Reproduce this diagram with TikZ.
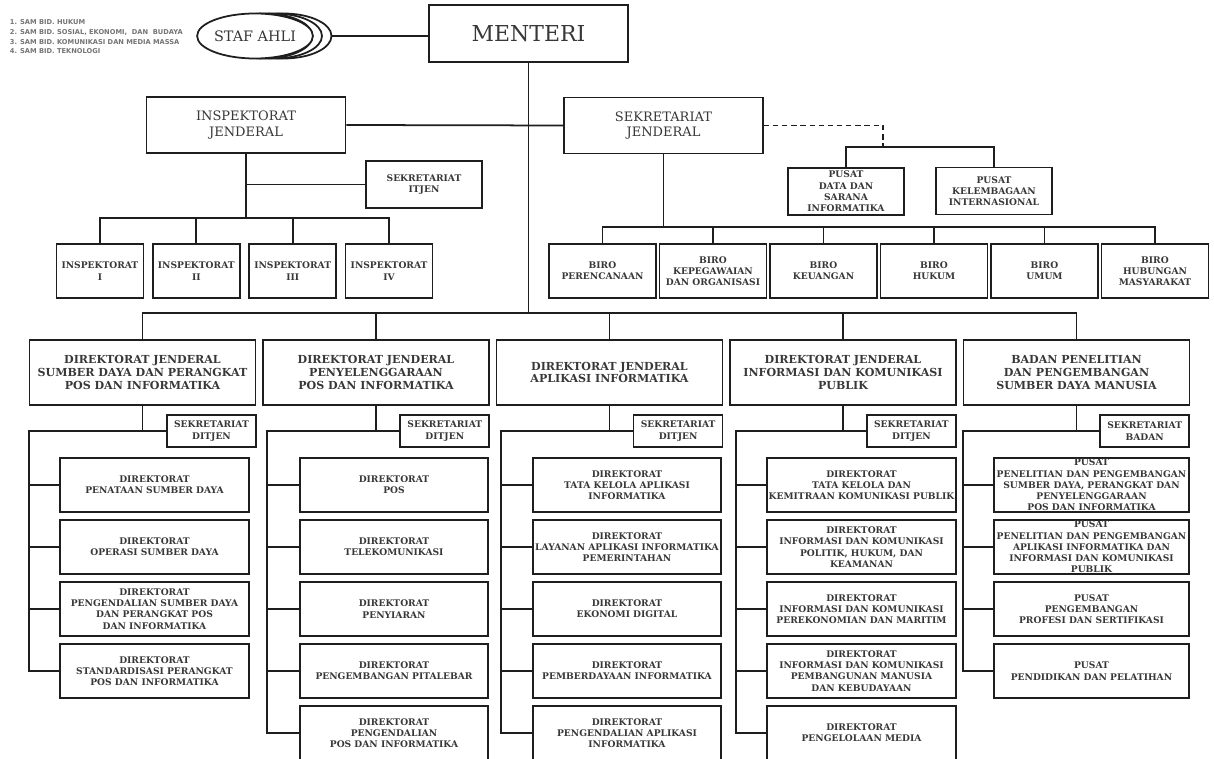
\documentclass[tikz,border=0pt]{standalone}
\usepackage{fontspec}
\setmainfont{DejaVu Serif}
\newfontfamily\notefont{DejaVu Sans}
\usetikzlibrary{shapes.geometric}
\definecolor{ink}{HTML}{1E1E1E}
\definecolor{txtgray}{HTML}{383838}
\definecolor{notegray}{HTML}{747474}
\newcommand{\px}{0.02cm}
\tikzset{
  unit/.style={draw=ink, line width=1pt, fill=white, align=center,
    inner sep=0pt, text=txtgray},
  boxsize/.style 2 args={minimum width=#1*\px, minimum height=#2*\px},
  bigbox/.style={unit, boxsize={199}{56}, font=\fontsize{7.4}{8.6}\selectfont},
  djbox/.style={unit, boxsize={226}{65}, font=\fontsize{6.3}{7.3}\selectfont\bfseries},
  smallbox/.style={unit, font=\fontsize{5.2}{6.4}\selectfont\bfseries},
  stafbox/.style={unit, ellipse, boxsize={96}{45}, font=\fontsize{8.2}{9}\selectfont},
  notestyle/.style={align=left, inner sep=0pt, text=notegray,
    font=\notefont\bfseries\fontsize{3.8}{5.5}\selectfont},
  dashline/.style={dash pattern=on 3pt off 2.2pt},
}
\begin{document}
\begin{tikzpicture}[x=\px, y=-\px, line width=1pt, ink]
\useasboundingbox (0,0) rectangle (1214,759);
\fill [white] (0,0) rectangle (1214,759);
\clip (0,0) rectangle (1214,759);
% menteri dan staf ahli
\node [notestyle, anchor=west] (notes) at (9,37) {1. SAM BID. HUKUM\\2. SAM BID. SOSIAL, EKONOMI,~ DAN~ BUDAYA\\3. SAM BID. KOMUNIKASI DAN MEDIA MASSA\\4. SAM BID. TEKNOLOGI};
\foreach \i/\x in {3/283.5,2/274,1/264.5}
  \node [stafbox] (staf\i) at (\x,36) {};
\node [stafbox] (staf) at (255,36) {STAF AHLI};
\node [bigbox, boxsize={199}{57}, font=\fontsize{12.5}{14}\selectfont] (menteri) at (528.5,33.5) {MENTERI};
\draw (staf3.east) -- (staf3.east -| menteri.west);
\coordinate (djbus) at (528.5,313);
\draw (menteri.south) -- (djbus);
% inspektorat jenderal
\node [bigbox] (ij) at (246,125) {INSPEKTORAT\\JENDERAL};
\node [bigbox] (sekjen) at (663.5,125.5) {SEKRETARIAT\\JENDERAL};
\draw (ij.east) -- (sekjen.west);
\node [smallbox, boxsize={116}{47}] (itjen) at (424,184.5) {SEKRETARIAT\\ITJEN};
\draw (ij.south |- itjen.west) -- (itjen.west);
\coordinate (ijbus) at (246,218);
\draw (ij.south) -- (ijbus);
\foreach \t [count=\i] in {I,II,III,IV}
  \node [smallbox, boxsize={87}{54}] (insp\i) at ({3.5+96.4*\i},271) {INSPEKTORAT\\\t};
\foreach \i in {1,...,4} \draw (ijbus) -| (insp\i.north);
% sekretariat jenderal
\coordinate (pusbus) at (883,147);
\draw [dashline] (sekjen.east) -| (pusbus);
\node [smallbox, boxsize={116}{47}] (pusat1) at (846,191.5) {PUSAT\\DATA DAN\\SARANA\\INFORMATIKA};
\node [smallbox, boxsize={116}{47}] (pusat2) at (994,191) {PUSAT\\KELEMBAGAAN\\INTERNASIONAL};
\foreach \i in {1,2} \draw (pusbus) -| (pusat\i.north);
\coordinate (birobus) at (663.5,227);
\draw (sekjen.south) -- (birobus);
\foreach \t [count=\i] in {{BIRO\\PERENCANAAN},{BIRO\\KEPEGAWAIAN\\DAN ORGANISASI},{BIRO\\KEUANGAN},{BIRO\\HUKUM},{BIRO\\UMUM},{BIRO\\HUBUNGAN\\MASYARAKAT}}
  \node [smallbox, boxsize={107}{54}] (biro\i) at ({492+110.5*\i},271) {\t};
\foreach \i in {1,...,6} \draw (birobus) -| (biro\i.north);
% direktorat jenderal dan badan
\foreach \t [count=\i] in {{DIREKTORAT JENDERAL\\SUMBER DAYA DAN PERANGKAT\\POS DAN INFORMATIKA},{DIREKTORAT JENDERAL\\PENYELENGGARAAN\\POS DAN INFORMATIKA},{DIREKTORAT JENDERAL\\APLIKASI INFORMATIKA},{DIREKTORAT JENDERAL\\INFORMASI DAN KOMUNIKASI\\PUBLIK},{BADAN PENELITIAN\\DAN PENGEMBANGAN\\SUMBER DAYA MANUSIA}}
  \node [djbox] (dj\i) at ({142.5+233.5*(\i-1)},372.5) {\t};
\foreach \i in {1,...,5} \draw (djbus) -| (dj\i.north);
\foreach \t [count=\i] in {DITJEN,DITJEN,DITJEN,DITJEN,BADAN} {
  \node [smallbox, boxsize={89}{32}] (sek\i) at ({211.5+233.3*(\i-1)},431) {SEKRETARIAT\\\t};
  \coordinate (c\i) at (dj\i.south |- sek\i.west);
  \draw (dj\i.south) -- (c\i) -- (sek\i.west);
}
% kolom 1
\coordinate (l1) at (29,431);
\foreach \t [count=\j] in {{DIREKTORAT\\PENATAAN SUMBER DAYA},{DIREKTORAT\\OPERASI SUMBER DAYA},{DIREKTORAT\\PENGENDALIAN SUMBER DAYA\\DAN PERANGKAT POS\\DAN INFORMATIKA},{DIREKTORAT\\STANDARDISASI PERANGKAT\\POS DAN INFORMATIKA}}
  \node [smallbox, boxsize={189}{54}] (d1-\j) at (154.5,{423+62*\j}) {\t};
\foreach \j in {1,...,4} \draw (c1) -- (l1) |- (d1-\j.west);
% kolom 2
\coordinate (l2) at (267,431);
\foreach \t [count=\j] in {{DIREKTORAT\\POS},{DIREKTORAT\\TELEKOMUNIKASI},{DIREKTORAT\\PENYIARAN},{DIREKTORAT\\PENGEMBANGAN PITALEBAR},{DIREKTORAT\\PENGENDALIAN\\POS DAN INFORMATIKA}}
  \node [smallbox, boxsize={188}{54}] (d2-\j) at (394,{423+62*\j}) {\t};
\foreach \j in {1,...,5} \draw (c2) -- (l2) |- (d2-\j.west);
% kolom 3
\coordinate (l3) at (501,431);
\foreach \t [count=\j] in {{DIREKTORAT\\TATA KELOLA APLIKASI\\INFORMATIKA},{DIREKTORAT\\LAYANAN APLIKASI INFORMATIKA\\PEMERINTAHAN},{DIREKTORAT\\EKONOMI DIGITAL},{DIREKTORAT\\PEMBERDAYAAN INFORMATIKA},{DIREKTORAT\\PENGENDALIAN APLIKASI\\INFORMATIKA}}
  \node [smallbox, boxsize={188}{54}] (d3-\j) at (627,{423+62*\j}) {\t};
\foreach \j in {1,...,5} \draw (c3) -- (l3) |- (d3-\j.west);
% kolom 4
\coordinate (l4) at (736,431);
\foreach \t [count=\j] in {{DIREKTORAT\\TATA KELOLA DAN\\KEMITRAAN KOMUNIKASI PUBLIK},{DIREKTORAT\\INFORMASI DAN KOMUNIKASI\\POLITIK, HUKUM, DAN\\KEAMANAN},{DIREKTORAT\\INFORMASI DAN KOMUNIKASI\\PEREKONOMIAN DAN MARITIM},{DIREKTORAT\\INFORMASI DAN KOMUNIKASI\\PEMBANGUNAN MANUSIA\\DAN KEBUDAYAAN},{DIREKTORAT\\PENGELOLAAN MEDIA}}
  \node [smallbox, boxsize={189}{54}] (d4-\j) at (861.5,{423+62*\j}) {\t};
\foreach \j in {1,...,5} \draw (c4) -- (l4) |- (d4-\j.west);
% kolom 5
\coordinate (l5) at (963,431);
\foreach \t [count=\j] in {{PUSAT\\PENELITIAN DAN PENGEMBANGAN\\SUMBER DAYA, PERANGKAT DAN\\PENYELENGGARAAN\\POS DAN INFORMATIKA},{PUSAT\\PENELITIAN DAN PENGEMBANGAN\\APLIKASI INFORMATIKA DAN\\INFORMASI DAN KOMUNIKASI\\PUBLIK},{PUSAT\\PENGEMBANGAN\\PROFESI DAN SERTIFIKASI},{PUSAT\\PENDIDIKAN DAN PELATIHAN}}
  \node [smallbox, boxsize={195}{54}] (d5-\j) at (1091.5,{423+62*\j}) {\t};
\foreach \j in {1,...,4} \draw (c5) -- (l5) |- (d5-\j.west);
\end{tikzpicture}
\end{document}
